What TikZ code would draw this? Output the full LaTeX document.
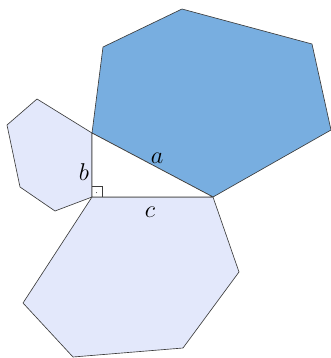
\documentclass[tikz,border=0pt]{standalone}
\usepackage{amsmath,amssymb}
\usepackage{tikz}
\usetikzlibrary{calc}
\definecolor{bluedark}{HTML}{78AEE0}
\definecolor{bluelite}{HTML}{E3E8FB}
\definecolor{edge}{HTML}{3C3C3C}

\begin{document}
\begin{tikzpicture}[x=0.03cm,y=-0.03cm,
    face/.style={draw=edge,line width=0.55pt,line join=round},
    side/.style={font=\fontsize{21}{24}\selectfont,inner sep=0pt}]
        \useasboundingbox (0,0) rectangle (331,358);
        \coordinate (C) at (92,197);
        \coordinate (B) at (92,133);
        \coordinate (A) at (213,197);
        % hexagon on the hypotenuse
        \filldraw[face,fill=bluedark] (A) -- (B) -- (103,47) -- (182,9) -- (312,44) -- (331,130) -- cycle;
        % hexagon on b
        \filldraw[face,fill=bluelite] (B) -- (C) -- (55,211) -- (20,187) -- (7,125) -- (37,99) -- cycle;
        % hexagon on c
        \filldraw[face,fill=bluelite] (C) -- (A) -- (239,272) -- (183,348) -- (73,357) -- (23,303) -- cycle;
        % the triangle
        \filldraw[face,fill=white] (A) -- (B) -- (C) -- cycle;
        \draw[edge,line width=0.4pt] ($(C)+(0,-11)$) -- ($(C)+(10,-11)$) -- ($(C)+(10,0)$);
        \fill[edge] ($(C)+(4.5,-4.5)$) circle (0.5);
        \node[side] (la) at (157,158) {$a$};
        \node[side] (lb) at (84,172) {$b$};
        \node[side] (lc) at (150,212) {$c$};
      \end{tikzpicture}
\end{document}
